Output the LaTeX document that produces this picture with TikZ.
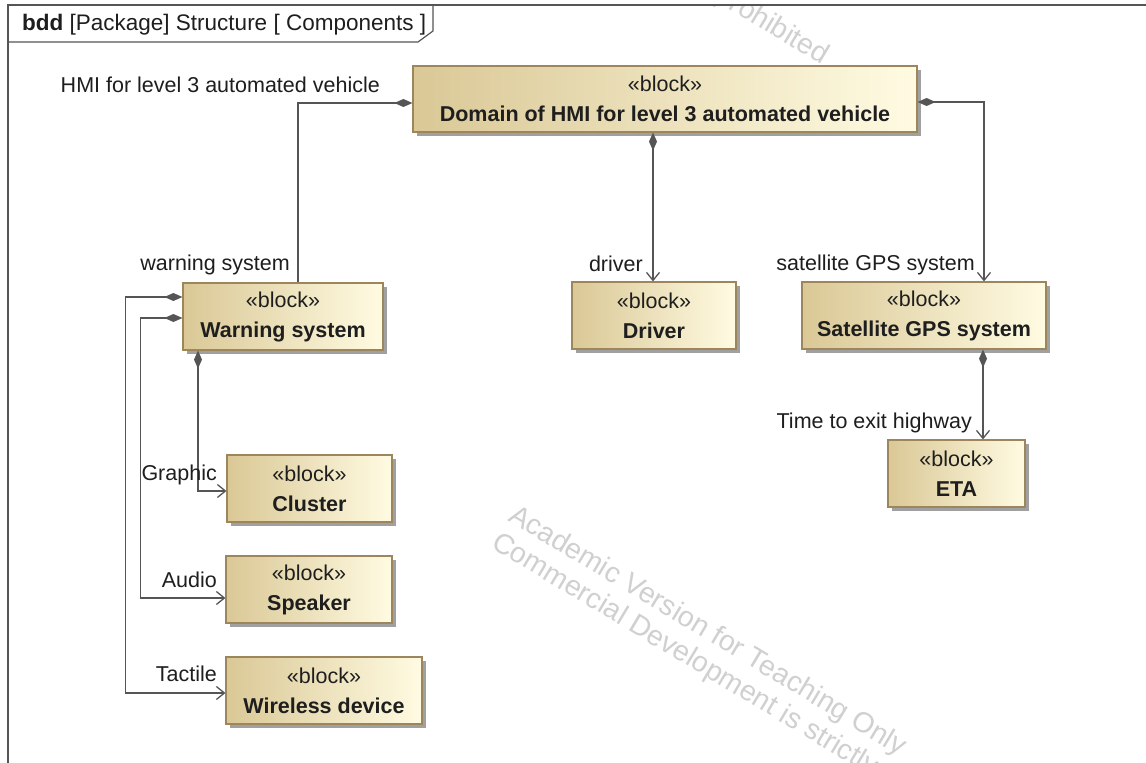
\documentclass[tikz,border=0pt]{standalone}
\usepackage{fontspec}
\setmainfont{Liberation Sans}
\usetikzlibrary{arrows.meta,shadows,calc}
\definecolor{blkL}{RGB}{218,200,150}
\definecolor{blkR}{RGB}{255,251,226}
\definecolor{blkB}{RGB}{158,134,92}
\definecolor{lineC}{RGB}{85,85,85}
\definecolor{wm}{RGB}{208,208,208}
\definecolor{shad}{RGB}{160,160,160}
\definecolor{txt}{RGB}{30,30,30}
\begin{document}
\begin{tikzpicture}[x=1pt,y=-1pt,
  blk/.style={draw=blkB, line width=1.2pt, left color=blkL, right color=blkR,
    drop shadow={shadow xshift=4pt, shadow yshift=-4pt, fill=shad, opacity=1},
    align=center, inner sep=0pt, text=txt, font=\fontsize{21.5}{30}\selectfont},
  lbl/.style={font=\fontsize{21.5}{25}\selectfont, text=txt, inner sep=0pt, anchor=base east},
  conn/.style={draw=lineC, line width=1.5pt},
  comp/.style={conn, {Diamond[length=18pt,width=8pt,fill=lineC]}-},
  compa/.style={conn, {Diamond[length=18pt,width=8pt,fill=lineC]}-{Straight Barb[length=8pt,width=13pt,line width=1.3pt]}},
  wmk/.style={text=wm, font=\fontsize{28.5}{32}\selectfont, inner sep=0pt, anchor=base west, rotate=-31},
]
\useasboundingbox (0,0) rectangle (1146,763);
\fill[white] (0,0) rectangle (1146,763);

% watermark (clipped to the frame interior)
\begin{scope}
\clip (9,6) rectangle (1146,763);
\node[wmk] (wm1) at (507,520) {Academic Version for Teaching Only};
\node[wmk] (wm2) at (490,547) {Commercial Development is strictly prohibited};
\node[wmk] (wm3) at (326,-233) {Commercial Development is strictly prohibited};
\end{scope}

% frame
\draw[draw=lineC, line width=1.5pt] (8,764) -- (8,5) -- (1147,5);
\draw[draw=lineC, line width=1.2pt] (8,42) -- (418,42) -- (433,31) -- (433,5);
\node[anchor=base west, inner sep=0pt, text=txt, font=\fontsize{22.5}{25}\selectfont] (hdr) at (22,30)
  {\textbf{bdd} [Package] Structure [ Components ]};

% blocks
\node[blk, minimum width=504pt, minimum height=66pt] (dom) at (665,99) {«block»\\\textbf{Domain of HMI for level 3 automated vehicle}};
\node[blk, minimum width=200pt, minimum height=67pt] (warn) at (283,316.5) {«block»\\\textbf{Warning system}};
\node[blk, minimum width=164pt, minimum height=67pt] (drv) at (654,315.5) {«block»\\\textbf{Driver}};
\node[blk, minimum width=244pt, minimum height=67pt] (gps) at (924,315.5) {«block»\\\textbf{Satellite GPS system}};
\node[blk, minimum width=137pt, minimum height=67pt] (eta) at (956.5,473.5) {«block»\\\textbf{ETA}};
\node[blk, minimum width=165pt, minimum height=67pt] (clu) at (309.5,488.5) {«block»\\\textbf{Cluster}};
\node[blk, minimum width=166pt, minimum height=67pt] (spk) at (309,589.5) {«block»\\\textbf{Speaker}};
\node[blk, minimum width=196pt, minimum height=67pt] (wir) at (324,690.5) {«block»\\\textbf{Wireless device}};

% connectors
\draw[comp] ([yshift=-4pt]dom.west) -| ([xshift=15pt]warn.north);
\draw[compa] ([xshift=-12pt]dom.south) -- ([xshift=-12pt]dom.south |- drv.north);
\draw[compa] ([yshift=-3pt]dom.east) -| ([xshift=60pt]gps.north);
\draw[compa] ([xshift=59pt]gps.south) -- ([xshift=59pt]gps.south |- eta.north);
\draw[compa] ([xshift=-85pt]warn.south) |- ([yshift=-2.5pt]clu.west);
\draw[compa] ([yshift=-1.5pt]warn.west) -- ++(-42,0) |- ([yshift=-8.5pt]spk.west);
\draw[compa] ([yshift=19.5pt]warn.west) -- ++(-57,0) |- ([yshift=-2.5pt]wir.west);

% labels
\node[lbl] (l1) at (380,92) {HMI for level 3 automated vehicle};
\node[lbl] (l2) at (290,270) {warning system};
\node[lbl] (l3) at (643,271) {driver};
\node[lbl] (l4) at (975,270) {satellite GPS system};
\node[lbl] (l5) at (972,428) {Time to exit highway};
\node[lbl] (l6) at (217,480) {Graphic};
\node[lbl] (l7) at (217,587) {Audio};
\node[lbl] (l8) at (217,681) {Tactile};
\end{tikzpicture}
\end{document}
